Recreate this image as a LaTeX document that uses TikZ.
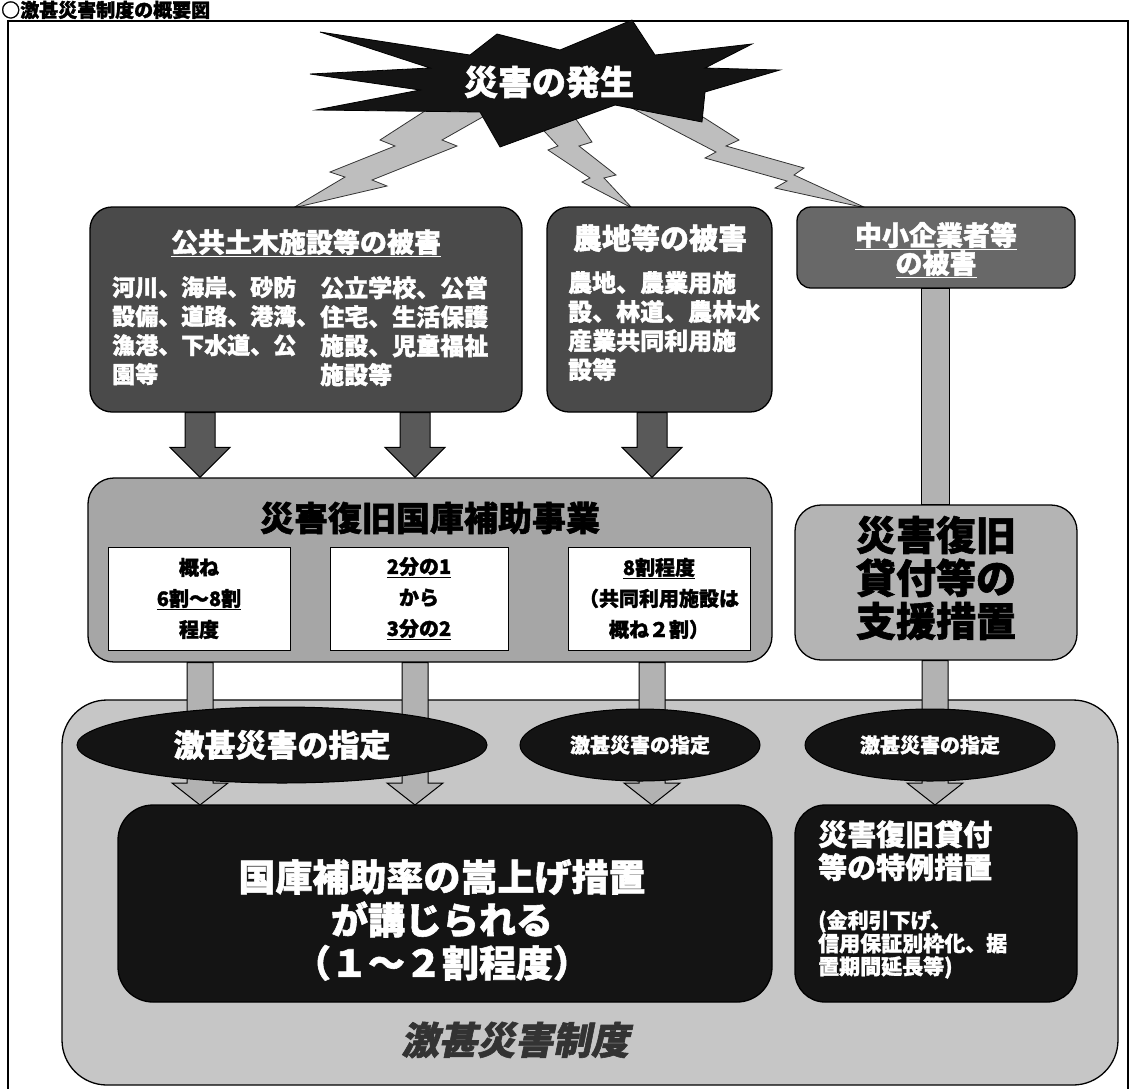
\documentclass[tikz,border=0pt]{standalone}
\usepackage{fontspec}
\setmainfont{Noto Sans CJK JP}[BoldFeatures={FakeBold=1.5},ItalicFeatures={FakeSlant=0.2},BoldItalicFeatures={FakeBold=1.5,FakeSlant=0.2}]
\usetikzlibrary{shapes.geometric,calc}
\definecolor{dkbox}{HTML}{4A4A4A}
\definecolor{mdbox}{HTML}{686868}
\definecolor{ltbox}{HTML}{A6A6A6}
\definecolor{supbox}{HTML}{B4B4B4}
\definecolor{outbox}{HTML}{C6C6C6}
\definecolor{blk}{HTML}{141414}
\definecolor{boltc}{HTML}{BEBEBE}
\definecolor{bigarr}{HTML}{595959}
\definecolor{bararr}{HTML}{B2B2B2}
\definecolor{lblc}{HTML}{333333}
\newcommand\blkarrow[6][]{%
  \filldraw[#1] ($(#2)+(-#4,0)$) -- ($(#2)+(#4,0)$) -- ($(#3)+(#4,-#6)$) -- ($(#3)+(#5,-#6)$) -- (#3) -- ($(#3)+(-#5,-#6)$) -- ($(#3)+(-#4,-#6)$) -- cycle;}
\newcommand\fs[2]{\fontsize{#1}{#2}\selectfont}
\begin{document}
\begin{tikzpicture}[x=1pt,y=-1pt,
  roundbox/.style={draw=black,line width=1.3pt,rounded corners=22pt,inner sep=0pt},
  whitebox/.style={draw=black,line width=1pt,fill=white,inner sep=0pt},
  ell/.style={ellipse,draw=black,line width=1pt,fill=blk,inner sep=0pt},
  wtxt/.style={text=white,inner sep=0pt},
  btxt/.style={text=black,inner sep=0pt},
  bolt/.style={fill=boltc,draw=black!80,line width=0.8pt},
  bigA/.style={fill=bigarr,draw=black,line width=1pt},
  barA/.style={fill=bararr,draw=black,line width=1pt}]
\useasboundingbox (0,0) rectangle (1136,1088);
\begin{scope}
\clip (0,0) rectangle (1136,1088);
\fill[white] (0,0) rectangle (1136,1088);
% title
\node[anchor=west,inner sep=0pt,font=\fs{19}{20}\bfseries] (ttl) at (1,10) {○激甚災害制度の概要図};
% frame
\draw[line width=2pt] (8,21) rectangle (1128,1100);
% bolts
\filldraw[bolt] (445,98) -- (502,106) -- (442,140) -- (457,146) -- (372,180) -- (387,186) -- (293,208) -- (345,177) -- (330,172) -- (395,146) -- (380,140) -- cycle;
\filldraw[bolt] (520,105) -- (566,105) -- (592,142) -- (579,146) -- (616,175) -- (604,178) -- (632,208) -- (582,182) -- (590,178) -- (548,150) -- (558,146) -- cycle;
\filldraw[bolt] (628,106) -- (692,110) -- (739,140) -- (726,146) -- (804,168) -- (794,175) -- (866,208) -- (775,188) -- (787,181) -- (705,158) -- (716,152) -- cycle;
% star
\filldraw[fill=blk,draw=black,line width=0.8pt] (632,20) -- (655,55) -- (752,44) -- (705,68) -- (780,70) -- (705,92) -- (702,122) -- (615,105) -- (500,147) -- (480,112) -- (316,110) -- (420,90) -- (310,74) -- (430,68) -- (320,32) -- (470,55) -- (497,34) -- (560,50) -- cycle;
\node[wtxt,font=\fs{34}{36}\bfseries] (star) at (549,82) {災害の発生};
% top boxes
\node[roundbox,fill=dkbox,minimum width=432,minimum height=205] (b1) at (306,309.5) {};
\node[wtxt,font=\fs{27}{30}\bfseries] (b1t) at (306,243) {\underline{公共土木施設等の被害}};
\node[wtxt,anchor=north west,align=left,font=\fs{23}{29}\bfseries] (b1l) at (112,276) {河川、海岸、砂防\\設備、道路、港湾、\\漁港、下水道、公\\園等};
\node[wtxt,anchor=north west,align=left,font=\fs{24}{29}\bfseries] (b1r) at (320,276) {公立学校、公営\\住宅、生活保護\\施設、児童福祉\\施設等};
\node[roundbox,fill=dkbox,minimum width=225,minimum height=205] (b2) at (659.5,309.5) {};
\node[wtxt,font=\fs{29}{32}\bfseries] (b2t) at (660,238) {農地等の被害};
\node[wtxt,anchor=north west,align=left,font=\fs{24}{29}\bfseries] (b2l) at (568,271) {農地、農業用施\\設、林道、農林水\\産業共同利用施\\設等};
\node[roundbox,rounded corners=14pt,fill=mdbox,minimum width=278,minimum height=81] (b3) at (936,247.5) {};
\node[wtxt,align=center,font=\fs{27}{28}\bfseries] (b3t) at (936,250) {\underline{中小企業者等}\\\underline{の被害}};
% middle boxes
\node[roundbox,rounded corners=26pt,fill=ltbox,minimum width=684,minimum height=184] (b4) at (430,570) {};
\node[btxt,font=\fs{34}{36}\bfseries] (b4t) at (430,518) {災害復旧国庫補助事業};
\node[whitebox,minimum width=182,minimum height=103] (wa) at (199,598.5) {};
\node[whitebox,minimum width=178,minimum height=103] (wb) at (419,598.5) {};
\node[whitebox,minimum width=182,minimum height=103] (wc) at (659,598.5) {};
\node[btxt,align=center,font=\fs{20}{31}\bfseries] (wat) at (wa) {概ね\\\underline{6割～8割}\\程度};
\node[btxt,align=center,font=\fs{20}{31}\bfseries] (wbt) at (wb) {\underline{2分の1}\\から\\\underline{3分の2}};
\node[btxt,align=center,font=\fs{20}{31}\bfseries] (wct) at (wc) {\underline{8割程度}\\（共同利用施設は\\概ね２割）};
\node[roundbox,rounded corners=26pt,fill=supbox,minimum width=282,minimum height=155] (rs) at (936,582.5) {};
\node[btxt,align=center,font=\fs{40}{43}\bfseries] (rst) at (936,578) {災害復旧\\貸付等の\\支援措置};
% big arrows top -> middle
\coordinate (a1s) at (200,0 |- b1.south); \coordinate (a1e) at (200,0 |- b4.north);
\coordinate (a2s) at (415,0 |- b1.south); \coordinate (a2e) at (415,0 |- b4.north);
\coordinate (a3s) at (652,0 |- b2.south); \coordinate (a3e) at (652,0 |- b4.north);
\blkarrow[bigA]{a1s}{a1e}{15}{30}{30}
\blkarrow[bigA]{a2s}{a2e}{15}{30}{30}
\blkarrow[bigA]{a3s}{a3e}{15}{30}{30}
\coordinate (r1s) at (935,0 |- b3.south); \coordinate (r1e) at (935,0 |- rs.north);
\filldraw[barA] ($(r1s)+(-14,0)$) rectangle ($(r1e)+(14,0)$);
% outer system box
\node[draw=black,line width=1.3pt,rounded corners=45pt,fill=outbox,minimum width=1056,minimum height=385,inner sep=0pt] (og) at (590,892.5) {};
% arrows middle -> lower
\path (445,903.5) coordinate (k1c) (936,903.5) coordinate (k2c);
\coordinate (c1s) at (200,0 |- b4.south); \coordinate (c1e) at (200,805);
\coordinate (c2s) at (415,0 |- b4.south); \coordinate (c2e) at (415,805);
\coordinate (c3s) at (652,0 |- b4.south); \coordinate (c3e) at (652,805);
\coordinate (c4s) at (935,0 |- rs.south); \coordinate (c4e) at (935,805);
\blkarrow[barA]{c1s}{c1e}{13}{28}{22}
\blkarrow[barA]{c2s}{c2e}{13}{28}{22}
\blkarrow[barA]{c3s}{c3e}{13}{28}{22}
\blkarrow[barA]{c4s}{c4e}{13}{28}{22}
% ellipses
\node[ell,minimum width=410,minimum height=76] (e1) at (282,745) {};
\node[wtxt,font=\fs{31}{33}\bfseries] (e1t) at (e1) {激甚災害の指定};
\node[ell,minimum width=240,minimum height=72] (e2) at (640,745) {};
\node[wtxt,font=\fs{20}{22}\bfseries] (e2t) at (e2) {激甚災害の指定};
\node[ell,minimum width=250,minimum height=72] (e3) at (930,745) {};
\node[wtxt,font=\fs{20}{22}\bfseries] (e3t) at (e3) {激甚災害の指定};
% black boxes
\node[roundbox,rounded corners=35pt,fill=blk,minimum width=654,minimum height=197] (k1) at (k1c) {};
\node[wtxt,align=center,font=\fs{37}{43}\bfseries] (k1t) at (442,920) {国庫補助率の嵩上げ措置\\が講じられる\\（１～２割程度）};
\node[roundbox,rounded corners=30pt,fill=blk,minimum width=282,minimum height=197] (k2) at (k2c) {};
\node[wtxt,anchor=north west,align=left,font=\fs{29}{33}\bfseries] (k2t) at (818,820) {災害復旧貸付\\等の特例措置};
\node[wtxt,anchor=north west,align=left,font=\fs{21}{23}\bfseries] (k2s) at (818,910) {(金利引下げ、\\信用保証別枠化、据\\置期間延長等)};
% system label
\node[text=lblc,inner sep=0pt,font=\fs{38}{40}\bfseries\itshape] (lbl) at (515,1040) {激甚災害制度};
\end{scope}
\end{tikzpicture}
\end{document}
